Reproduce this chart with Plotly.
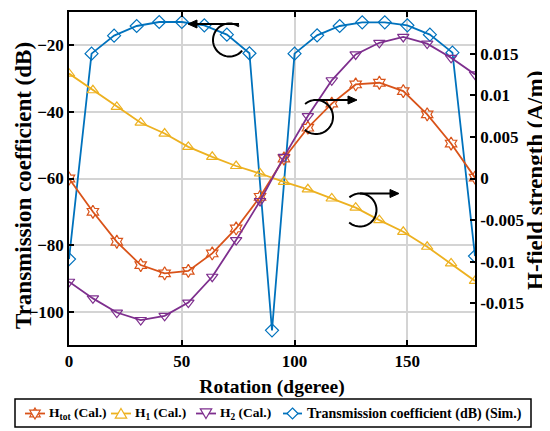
import numpy as np
import plotly.graph_objects as go

# ---------------- data ----------------
rot_sim = [0, 10, 20, 30, 40, 50, 60, 70, 80, 90, 100, 110, 120, 130, 140, 150, 160, 170, 180]
trans_db = [-84.2, -22.5, -17.1, -14.2, -13.0, -13.0, -14.0, -16.8, -22.4, -105.6,
            -22.5, -17.0, -14.2, -13.1, -13.1, -14.0, -16.8, -22.2, -83.3]

rot_cal = [0.0, 10.6, 21.2, 31.8, 42.4, 52.9, 63.5, 74.1, 84.7, 95.3,
           105.9, 116.5, 127.1, 137.6, 148.2, 158.8, 169.4, 180.0]
h_tot = [0.0000, -0.0040, -0.0076, -0.0104, -0.0114, -0.0111, -0.0090, -0.0060, -0.0022,
         0.0024, 0.0061, 0.0090, 0.0113, 0.0115, 0.0105, 0.0077, 0.0042, 0.0001]
h_1 = [0.0126, 0.0106, 0.0086, 0.0067, 0.0054, 0.0038, 0.0026, 0.0015, 0.0006,
       -0.0004, -0.0013, -0.0024, -0.0035, -0.0050, -0.0064, -0.0082, -0.0102, -0.0123]
h_2 = [-0.0124, -0.0144, -0.0161, -0.0170, -0.0165, -0.0149, -0.0118, -0.0074, -0.0027,
       0.0026, 0.0075, 0.0118, 0.0149, 0.0163, 0.0170, 0.0162, 0.0145, 0.0125]

left_ticks = [-100, -80, -60, -40, -20]
right_ticks = [-0.015, -0.01, -0.005, 0, 0.005, 0.01, 0.015]
right_ticktext = ['-0.015', '-0.01', '-0.005', '0', '0.005', '0.01', '0.015']
x_ticks = [0, 50, 100, 150]

legend_labels = ['H<sub>tot</sub> (Cal.)', 'H<sub>1</sub> (Cal.)', 'H<sub>2</sub> (Cal.)',
                 'Transmission coefficient (dB) (Sim.)']
x_title = 'Rotation (dgeree)'
y_title = 'Transmission coefficient (dB)'
y2_title = 'H-field strength (A/m)'

C_BLUE = '#0072BD'
C_ORANGE = '#D95319'
C_YELLOW = '#EDB120'
C_PURPLE = '#7E2F8E'

FONT = 'Liberation Serif'

# window is 550x431; the page body adds an 8 px offset
OFF = 8
WIN_W, WIN_H = 550, 431
W, H = WIN_W - OFF, WIN_H - OFF
L, R, T, B = 69, 475, 12, 345  # plot-area box in window pixels
pw, ph = R - L, B - T

fig = go.Figure()

def add_cal(y, name, color, symbol):
    fig.add_trace(go.Scatter(
        x=rot_cal, y=y, name=name, yaxis='y2', mode='lines+markers', showlegend=False,
        line=dict(color=color, width=1.8),
        marker=dict(symbol=symbol, size=10, color=color, line=dict(color=color, width=1.2)),
    ))

add_cal(h_tot, legend_labels[0], C_ORANGE, 'hexagram-open')
add_cal(h_1, legend_labels[1], C_YELLOW, 'triangle-up-open')
add_cal(h_2, legend_labels[2], C_PURPLE, 'triangle-down-open')

fig.add_trace(go.Scatter(
    x=rot_sim, y=trans_db, name=legend_labels[3], yaxis='y', showlegend=False,
    mode='lines+markers', line=dict(color=C_BLUE, width=1.8),
    marker=dict(symbol='diamond-open', size=10, color=C_BLUE, line=dict(color=C_BLUE, width=1.2)),
))

# ---------------- helpers for decorations (window pixel -> paper) ----------------
def pp(px, py):
    return (px - L) / pw, (B - py) / ph

def poly_path(pts, close=False):
    conv = [pp(x, y) for x, y in pts]
    s = 'M ' + ' L '.join(f'{x:.5f},{y:.5f}' for x, y in conv)
    return s + (' Z' if close else '')

def arc_pts(cx, cy, r, a0, a1, n=48):
    angs = np.radians(np.linspace(a0, a1, n))
    return [(cx + r * np.cos(a), cy - r * np.sin(a)) for a in angs]

shapes = []

def circ_arrow(cx, cy, r, a0, a1, x0, x1, yline):
    shapes.append(dict(type='path', xref='paper', yref='paper', layer='above',
                       path=poly_path(arc_pts(cx, cy, r, a0, a1)),
                       line=dict(color='black', width=2)))
    d = 1 if x1 > x0 else -1
    hl, hw = 9, 4
    shapes.append(dict(type='path', xref='paper', yref='paper', layer='above',
                       path=poly_path([(x0, yline), (x1 - d * hl + d * 1, yline)]),
                       line=dict(color='black', width=2)))
    shapes.append(dict(type='path', xref='paper', yref='paper', layer='above',
                       path=poly_path([(x1, yline), (x1 - d * hl, yline - hw),
                                       (x1 - d * hl, yline + hw)], close=True),
                       fillcolor='black', line=dict(color='black', width=1)))

circ_arrow(229.5, 40, 16.5, 55, 320, 239, 188, 24)
circ_arrow(316, 117, 17, 130, -131, 316, 357, 100)
circ_arrow(360, 210, 16.5, 130, -131, 360, 399, 193.5)

# ---------------- manual legend ----------------
LB_X0, LB_X1, LB_Y0, LB_Y1 = 15, 531, 399, 427
ly = 413.5
x0p, y0p = pp(LB_X0, LB_Y1)
x1p, y1p = pp(LB_X1, LB_Y0)
shapes.append(dict(type='rect', xref='paper', yref='paper', x0=x0p, y0=y0p, x1=x1p, y1=y1p,
                   line=dict(color='black', width=1.5), fillcolor='white', layer='above'))

def mk_diamond(cx, cy, r=5):
    return [(cx, cy - r), (cx + r, cy), (cx, cy + r), (cx - r, cy)]

def mk_tri(cx, cy, r=5.5, up=True):
    s = -1 if up else 1
    return [(cx, cy + s * r), (cx + r * 0.95, cy - s * r * 0.6), (cx - r * 0.95, cy - s * r * 0.6)]

legend_items = [
    (25, 45, C_ORANGE, 'hex', 47, 13.5),
    (111, 131, C_YELLOW, 'up', 133, 13.5),
    (196, 216, C_PURPLE, 'down', 218, 13.5),
    (283, 302, C_BLUE, 'dia', 305, 14),
]
annotations = []
for (xa, xb, col, kind, tx, fs), lab in zip(legend_items, legend_labels):
    shapes.append(dict(type='path', xref='paper', yref='paper', layer='above',
                       path=poly_path([(xa, ly), (xb, ly)]), line=dict(color=col, width=1.8)))
    cx = (xa + xb) / 2
    if kind == 'hex':
        polys = [mk_tri(cx, ly, 5.5, True), mk_tri(cx, ly, 5.5, False)]
    elif kind == 'up':
        polys = [mk_tri(cx, ly + 1, 6, True)]
    elif kind == 'down':
        polys = [mk_tri(cx, ly - 1, 6, False)]
    else:
        polys = [mk_diamond(cx, ly, 5.5)]
    for pg in polys:
        shapes.append(dict(type='path', xref='paper', yref='paper', layer='above',
                           path=poly_path(pg, close=True), fillcolor='white',
                           line=dict(color=col, width=1.2)))
    txp, typ = pp(tx, ly)
    annotations.append(dict(x=txp, y=typ, xref='paper', yref='paper', text=lab,
                            showarrow=False, xanchor='left', yanchor='middle',
                            font=dict(family=FONT, size=fs, color='black', weight='bold')))

# axis titles (rotated y titles as annotations for exact placement)
ytfont = dict(family=FONT, size=23, color='black', weight='bold')
ax_, ay_ = pp(23, 186)
annotations.append(dict(x=ax_, y=ay_, xref='paper', yref='paper', text=y_title, textangle=-90,
                        showarrow=False, xanchor='center', yanchor='middle', font=ytfont))
ax_, ay_ = pp(535, 181)
annotations.append(dict(x=ax_, y=ay_, xref='paper', yref='paper', text=y2_title, textangle=-90,
                        showarrow=False, xanchor='center', yanchor='middle', font=ytfont))

tickfont = dict(family=FONT, size=17, color='black', weight='bold')

fig.update_layout(
    width=W, height=H,
    margin=dict(l=L - OFF, r=WIN_W - R, t=T - OFF, b=WIN_H - B, autoexpand=False),
    paper_bgcolor='white', plot_bgcolor='white',
    font=dict(family=FONT, color='black'),
    shapes=shapes, annotations=annotations,
    showlegend=False,
    xaxis=dict(range=[0, 180], tickvals=x_ticks, ticks='inside', ticklen=5, tickwidth=1.5,
               tickcolor='black', showline=True, linecolor='black', linewidth=1.5, mirror='ticks',
               showgrid=True, gridcolor='#d4d4d4', gridwidth=1.5, zeroline=False,
               tickfont=tickfont,
               title=dict(text=x_title,
                          font=dict(family=FONT, size=19.5, color='black', weight='bold'), standoff=9)),
    yaxis=dict(range=[-110, -10], tickvals=left_ticks, ticks='inside', ticklen=5, tickwidth=1.5,
               tickcolor='black', showline=True, linecolor='black', linewidth=1.5,
               showgrid=True, gridcolor='#d4d4d4', gridwidth=1.5, zeroline=False,
               tickfont=tickfont),
    yaxis2=dict(range=[-0.02, 0.02], overlaying='y', side='right', tickvals=right_ticks,
                ticktext=right_ticktext, ticks='inside', ticklen=5, tickwidth=1.5,
                tickcolor='black', showline=True, linecolor='black', linewidth=1.5,
                showgrid=False, zeroline=False, tickfont=tickfont),
)

fig.write_html('out.html')
